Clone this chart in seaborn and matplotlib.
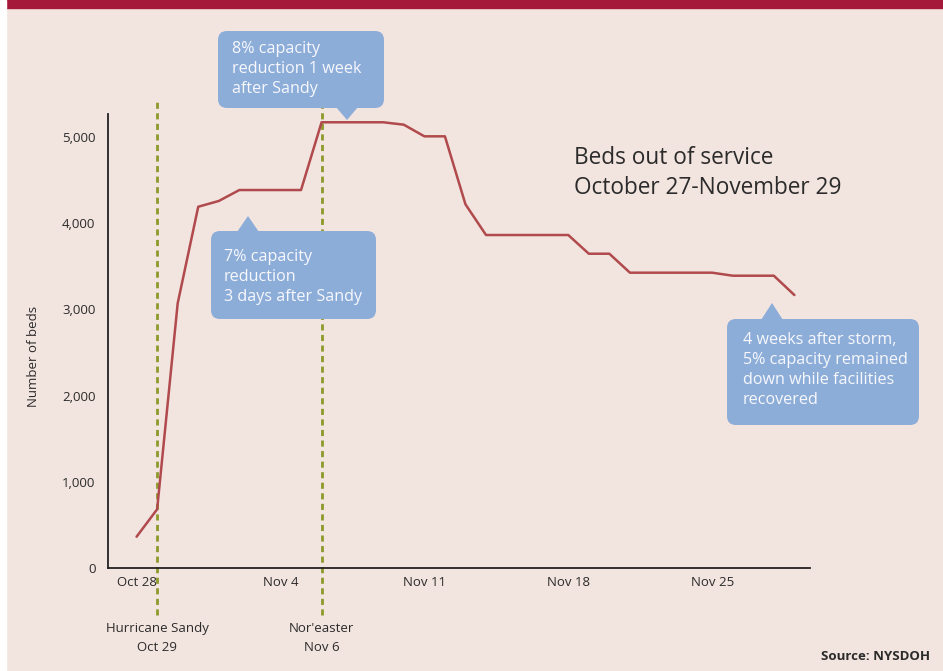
import pandas as pd
import matplotlib.pyplot as plt
import matplotlib.transforms as mtransforms
from matplotlib.patches import FancyBboxPatch, Polygon, Rectangle
import seaborn as sns

# Beds out of service, one reading per day from Oct 28 to Nov 29 2012
start_date = '2012-10-28'
beds = [363, 681, 3071, 4191, 4258, 4385, 4385, 4385, 4385,
        5171, 5171, 5171, 5171, 5143, 5008, 5008, 4219,
        3863, 3863, 3863, 3863, 3863, 3646, 3646,
        3426, 3426, 3426, 3426, 3426, 3391, 3391, 3391, 3167]
tick_dates = ['2012-10-28', '2012-11-04', '2012-11-11', '2012-11-18', '2012-11-25']
tick_labels = ['Oct 28', 'Nov 4', 'Nov 11', 'Nov 18', 'Nov 25']
y_ticks = [0, 1000, 2000, 3000, 4000, 5000]
event_dates = ['2012-10-29', '2012-11-06']
event_labels = ['Hurricane Sandy\nOct 29', "Nor'easter\nNov 6"]
callout_texts = ['8% capacity\nreduction 1 week\nafter Sandy',
                 '7% capacity\nreduction\n3 days after Sandy',
                 '4 weeks after storm,\n5% capacity remained\ndown while facilities\nrecovered']

W, H = 943, 671
bg = '#f2e4df'
line_color = '#b04a4c'
event_color = '#8c9a2c'
box_color = '#8dadd9'
text_color = '#2b2b2b'

df = pd.DataFrame({'date': pd.date_range(start_date, periods=len(beds), freq='D'),
                   'beds': beds})

sns.set_style('white')
plt.rcParams['font.family'] = ['Open Sans', 'DejaVu Sans']

fig = plt.figure(figsize=(W / 100, H / 100), dpi=100, facecolor=bg)
# pixel coordinates measured from the top-left corner
px = mtransforms.Affine2D().scale(1 / W, -1 / H).translate(0, 1) + fig.transFigure

fig.patches.append(Rectangle((0, 0), W, 8, transform=px, color='#a6183a', zorder=0))
fig.patches.append(Rectangle((0, 0), 6, H, transform=px, color='white', zorder=0))

ax = fig.add_axes([108 / W, 1 - 568 / H, 702 / W, 454 / H])
ax.set_facecolor(bg)
sns.lineplot(data=df, x='date', y='beds', ax=ax, color=line_color, linewidth=1.8)

ax.set_xlim(df['date'].iloc[0] - pd.Timedelta(days=1.39),
            df['date'].iloc[-1] + pd.Timedelta(days=0.76))
ax.set_ylim(0, 5267)
ax.set_xticks(pd.to_datetime(tick_dates))
ax.set_xticklabels(tick_labels)
ax.set_yticks(y_ticks)
ax.set_yticklabels([f'{v:,}' for v in y_ticks])
ax.tick_params(length=0, labelsize=9.5, colors=text_color)
ax.tick_params(axis='y', pad=9)
ax.tick_params(axis='x', pad=6)
for side in ['top', 'right']:
    ax.spines[side].set_visible(False)
for side in ['left', 'bottom']:
    ax.spines[side].set_color('#222222')
    ax.spines[side].set_linewidth(1.3)
ax.set_xlabel('')
ax.set_ylabel('Number of beds', fontsize=9.5, color=text_color)
ax.yaxis.set_label_coords(-0.097, 0.465)

# storm markers
trans = mtransforms.blended_transform_factory(ax.transData, ax.transAxes)
for d, lab in zip(pd.to_datetime(event_dates), event_labels):
    ax.axvline(d, ymin=-0.1035, ymax=1.026, color=event_color, linewidth=2,
               linestyle=(0, (2.2, 1.6)), clip_on=False, zorder=1)
    ax.text(d, -0.155, lab, transform=trans, ha='center', va='center',
            fontsize=9.5, color=text_color, linespacing=1.6)


def callout(x0, y0, x1, y1, tip_x, tip_y, text, tx, ty):
    fig.patches.append(FancyBboxPatch((x0, y0), x1 - x0, y1 - y0,
                                      boxstyle='round,pad=0,rounding_size=9',
                                      transform=px, facecolor=box_color,
                                      edgecolor='none', zorder=5))
    base_y = y1 - 1 if tip_y > y1 else y0 + 1
    fig.patches.append(Polygon([(tip_x - 11, base_y), (tip_x + 11, base_y), (tip_x, tip_y)],
                               transform=px, facecolor=box_color,
                               edgecolor='none', zorder=5))
    fig.text(tx, ty, text, transform=px, ha='left', va='center', fontsize=11.6,
             color='#f7f8fc', linespacing=1.36, zorder=6)


callout(218, 31, 384, 108, 347, 120, callout_texts[0], 232, 69)
callout(211, 231, 376, 319, 248, 216, callout_texts[1], 224, 277)
callout(727, 319, 919, 425, 772, 303, callout_texts[2], 743, 370)

fig.text(574, 173, 'Beds out of service\nOctober 27-November 29', transform=px,
         ha='left', va='center', fontsize=16.3, color=text_color, linespacing=1.3)
fig.text(930, 657, 'Source: NYSDOH', transform=px, ha='right', va='center',
         fontsize=9.5, fontweight='bold', color=text_color)

fig.savefig('out.png', dpi=100, facecolor=bg)
